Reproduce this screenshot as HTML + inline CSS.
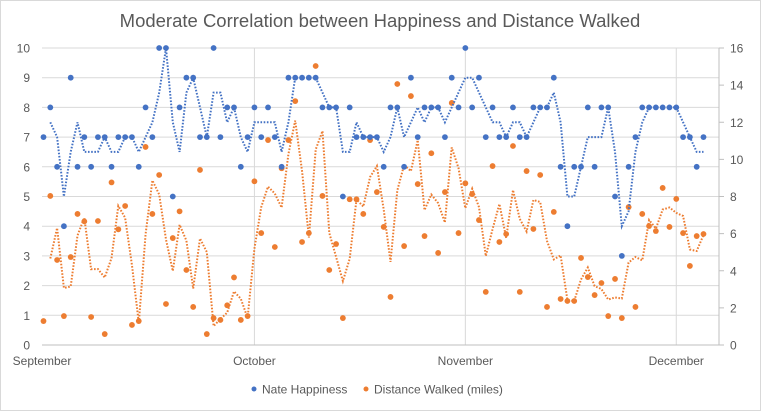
<!DOCTYPE html>
<html><head><meta charset="utf-8"><style>
html,body{margin:0;padding:0;background:#fff}
svg{display:block;font-family:"Liberation Sans",sans-serif}
</style></head><body>
<svg id="chart" width="761" height="411" viewBox="0 0 761 411" xmlns="http://www.w3.org/2000/svg">
<rect x="0.5" y="0.5" width="760" height="410" fill="#fff" stroke="#d9d9d9"/>
<text x="380" y="27" text-anchor="middle" font-size="18.5" fill="#595959">Moderate Correlation between Happiness and Distance Walked</text>
<g id="grid"></g>
<g id="axes"></g>
<g id="series"></g>
<g>
 <g><circle cx="254" cy="389" r="2.5" fill="#4472C4"/><text x="262" y="393.5" font-size="12" fill="#595959">Nate Happiness</text></g>
 <g><circle cx="366" cy="389" r="2.5" fill="#ED7D31"/><text x="374" y="393.5" font-size="12" fill="#595959">Distance Walked (miles)</text></g>
</g>
</svg>
<script>
const happiness = [7,8,6,4,9,6,7,6,7,7,6,7,7,7,6,8,7,10,10,5,8,9,9,7,7,10,
7,8,8,6,7,8,7,8,7,6,9,9,9,9,9,8,8,8,5,8,7,7,7,7,6,8,
8,6,9,7,8,8,8,7,9,8,10,8,9,7,8,7,7,8,7,7,8,8,8,9,6,
4,6,6,8,6,8,8,5,3,6,7,8,8,8,8,8,8,7,7,6,7];
const distance = [1.29,8.03,4.58,1.56,4.74,7.06,6.66,1.51,6.68,0.59,8.76,6.23,7.49,1.08,1.29,10.67,7.06,9.16,2.21,5.76,7.2,4.04,2.05,9.43,0.59,1.45,
1.35,2.14,3.64,1.35,1.56,8.82,6.03,11.04,5.28,9.52,11.04,13.14,5.55,6.03,15.03,8.03,4.04,5.44,1.45,7.85,7.85,7.06,11.04,8.24,6.36,2.59,
14.06,5.33,13.41,8.67,5.87,10.33,4.96,8.24,13.04,6.03,8.71,8.13,6.73,2.86,9.64,5.55,5.98,10.72,2.86,9.37,6.25,9.16,2.05,7.17,2.48,
2.37,2.37,4.69,3.66,2.69,3.34,1.56,3.56,1.45,7.43,2.05,7.06,6.41,6.14,8.46,6.36,7.87,6.03,4.26,5.87,5.98];
const leftTicks = [0,1,2,3,4,5,6,7,8,9,10];
const rightTicks = [0,2,4,6,8,10,12,14,16];
const monthLabels = ["September","October","November","December"];
const monthDays = [0,31,62,93];

const NS="http://www.w3.org/2000/svg";
const L=42,R=719,T=48,B=345;
const x=d=>43.5+6.804*d;
const yL=v=>B-(v/10)*(B-T);
const yR=v=>B-(v/16)*(B-T);
function mk(tag,attrs,parent){const e=document.createElementNS(NS,tag);for(const k in attrs)e.setAttribute(k,attrs[k]);parent.appendChild(e);return e;}
const grid=document.getElementById('grid'),axes=document.getElementById('axes'),series=document.getElementById('series');

leftTicks.forEach(v=>{
  if(v>0){const g=mk('line',{x1:L,x2:R,y1:yL(v),y2:yL(v),stroke:'#d9d9d9','stroke-width':1},grid);
  
  }
  const t=mk('text',{x:30,y:yL(v)+4.5,'text-anchor':'end','font-size':12,fill:'#595959'},axes);
  t.textContent=v;
  
  
});
rightTicks.forEach(v=>{
  const tk=mk('line',{x1:R,x2:R+5,y1:yR(v),y2:yR(v),stroke:'#bfbfbf'},axes);
  
  
  const t=mk('text',{x:730,y:yR(v)+4.5,'font-size':12,fill:'#595959'},axes);
  t.textContent=v;
  
  
});
monthDays.forEach((d,i)=>{
  const xx=i===0?L:x(d);
  if(i>0){const g=mk('line',{x1:xx,x2:xx,y1:T,y2:B,stroke:'#d9d9d9'},grid);
  
  }
  const t=mk('text',{x:xx,y:365,'text-anchor':'middle','font-size':12,fill:'#595959'},axes);
  t.textContent=monthLabels[i];
  
  
});
const xa=mk('line',{x1:L,x2:R,y1:B,y2:B,stroke:'#bfbfbf'},axes);


const ra=mk('line',{x1:R,x2:R,y1:T,y2:B,stroke:'#bfbfbf'},axes);



function drawSeries(vals,yf,color,name){
  let pts=[];
  for(let i=1;i<vals.length;i++)pts.push(x(i).toFixed(1)+','+yf((vals[i]+vals[i-1])/2).toFixed(1));
  const pl=mk('polyline',{points:pts.join(' '),fill:'none',stroke:color,'stroke-width':2,'stroke-dasharray':'1.6 1.6'},series);
  
  
  vals.forEach((v,i)=>{
    const c=mk('circle',{cx:x(i),cy:yf(v),r:2.9,fill:color},series);
    
    
  });
}
drawSeries(distance,yR,'#ED7D31','distance');
drawSeries(happiness,yL,'#4472C4','happiness');
</script>
</body></html>
